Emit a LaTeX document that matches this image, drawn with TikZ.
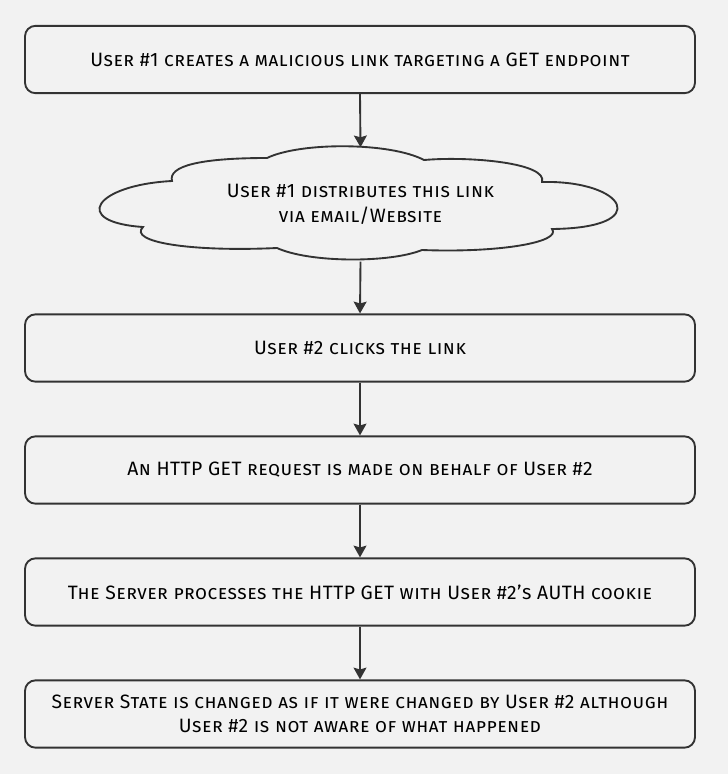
\documentclass[tikz,border=0pt]{standalone}
\usepackage{fontspec}
\setmainfont{Fira Sans}[Letters=SmallCaps, LetterSpace=2.5]
\usepackage{tikz}
\usetikzlibrary{arrows.meta}
\definecolor{pagecol}{HTML}{F2F2F2}
\definecolor{inkcol}{HTML}{333333}
\tikzset{
  stepbox/.style  = {draw=inkcol, line width=1.6pt, rounded corners=9pt,
                     fill=pagecol, font=\fontsize{16.5}{20}\selectfont, text=black,
                     align=center, minimum width=20.1cm, minimum height=2.02cm},
  cloudtext/.style = {font=\fontsize{16.5}{20}\selectfont, text=black, align=center,
                      inner sep=0pt, minimum width=15.45cm, minimum height=3.42cm},
  cloudline/.style = {draw=inkcol, line width=1.6pt, fill=pagecol},
  flow/.style     = {-{Stealth[length=10pt, width=11pt, inset=1.5pt]}, draw=inkcol,
                     line width=1.6pt},
}
\begin{document}
\begin{tikzpicture}[x=0.03cm, y=-0.03cm]
    \fill[pagecol] (0,0) rectangle (728,774);
    \useasboundingbox (0,0) rectangle (728,774);

    % cloud outline
    \draw[cloudline] (143,227) .. controls (70,222) and (95,185) .. (172,181)
      .. controls (168,166) and (200,158) .. (267,158)
      .. controls (300,142) and (390,142) .. (424,160)
      .. controls (470,156) and (548,163) .. (542,182)
      .. controls (625,180) and (655,228) .. (552,229)
      .. controls (562,242) and (500,253) .. (422,250)
      .. controls (390,263) and (310,263) .. (277,248)
      .. controls (190,252) and (128,242) .. cycle;

    % steps
    \node[stepbox] (s1) at (360,59.5) {User \#1 creates a malicious link targeting a GET endpoint};
    \node[cloudtext] (s2) at (360.5,204.5) {User \#1 distributes this link\\[1pt] via email/Website};
    \node[stepbox] (s3) at (360,348) {User \#2 clicks the link};
    \node[stepbox] (s4) at (360,470) {An HTTP GET request is made on behalf of User \#2};
    \node[stepbox] (s5) at (360,592) {The Server processes the HTTP GET with User \#2's AUTH cookie};
    \node[stepbox] (s6) at (360,714)
      {Server State is changed as if it were changed by User \#2 although\\[1pt]
       User \#2 is not aware of what happened};

    % arrows
    \foreach \a/\b in {s1/s2, s2/s3, s3/s4, s4/s5, s5/s6}
      \draw[flow] (\a.south) -- (\b.north);
  \end{tikzpicture}
\end{document}
